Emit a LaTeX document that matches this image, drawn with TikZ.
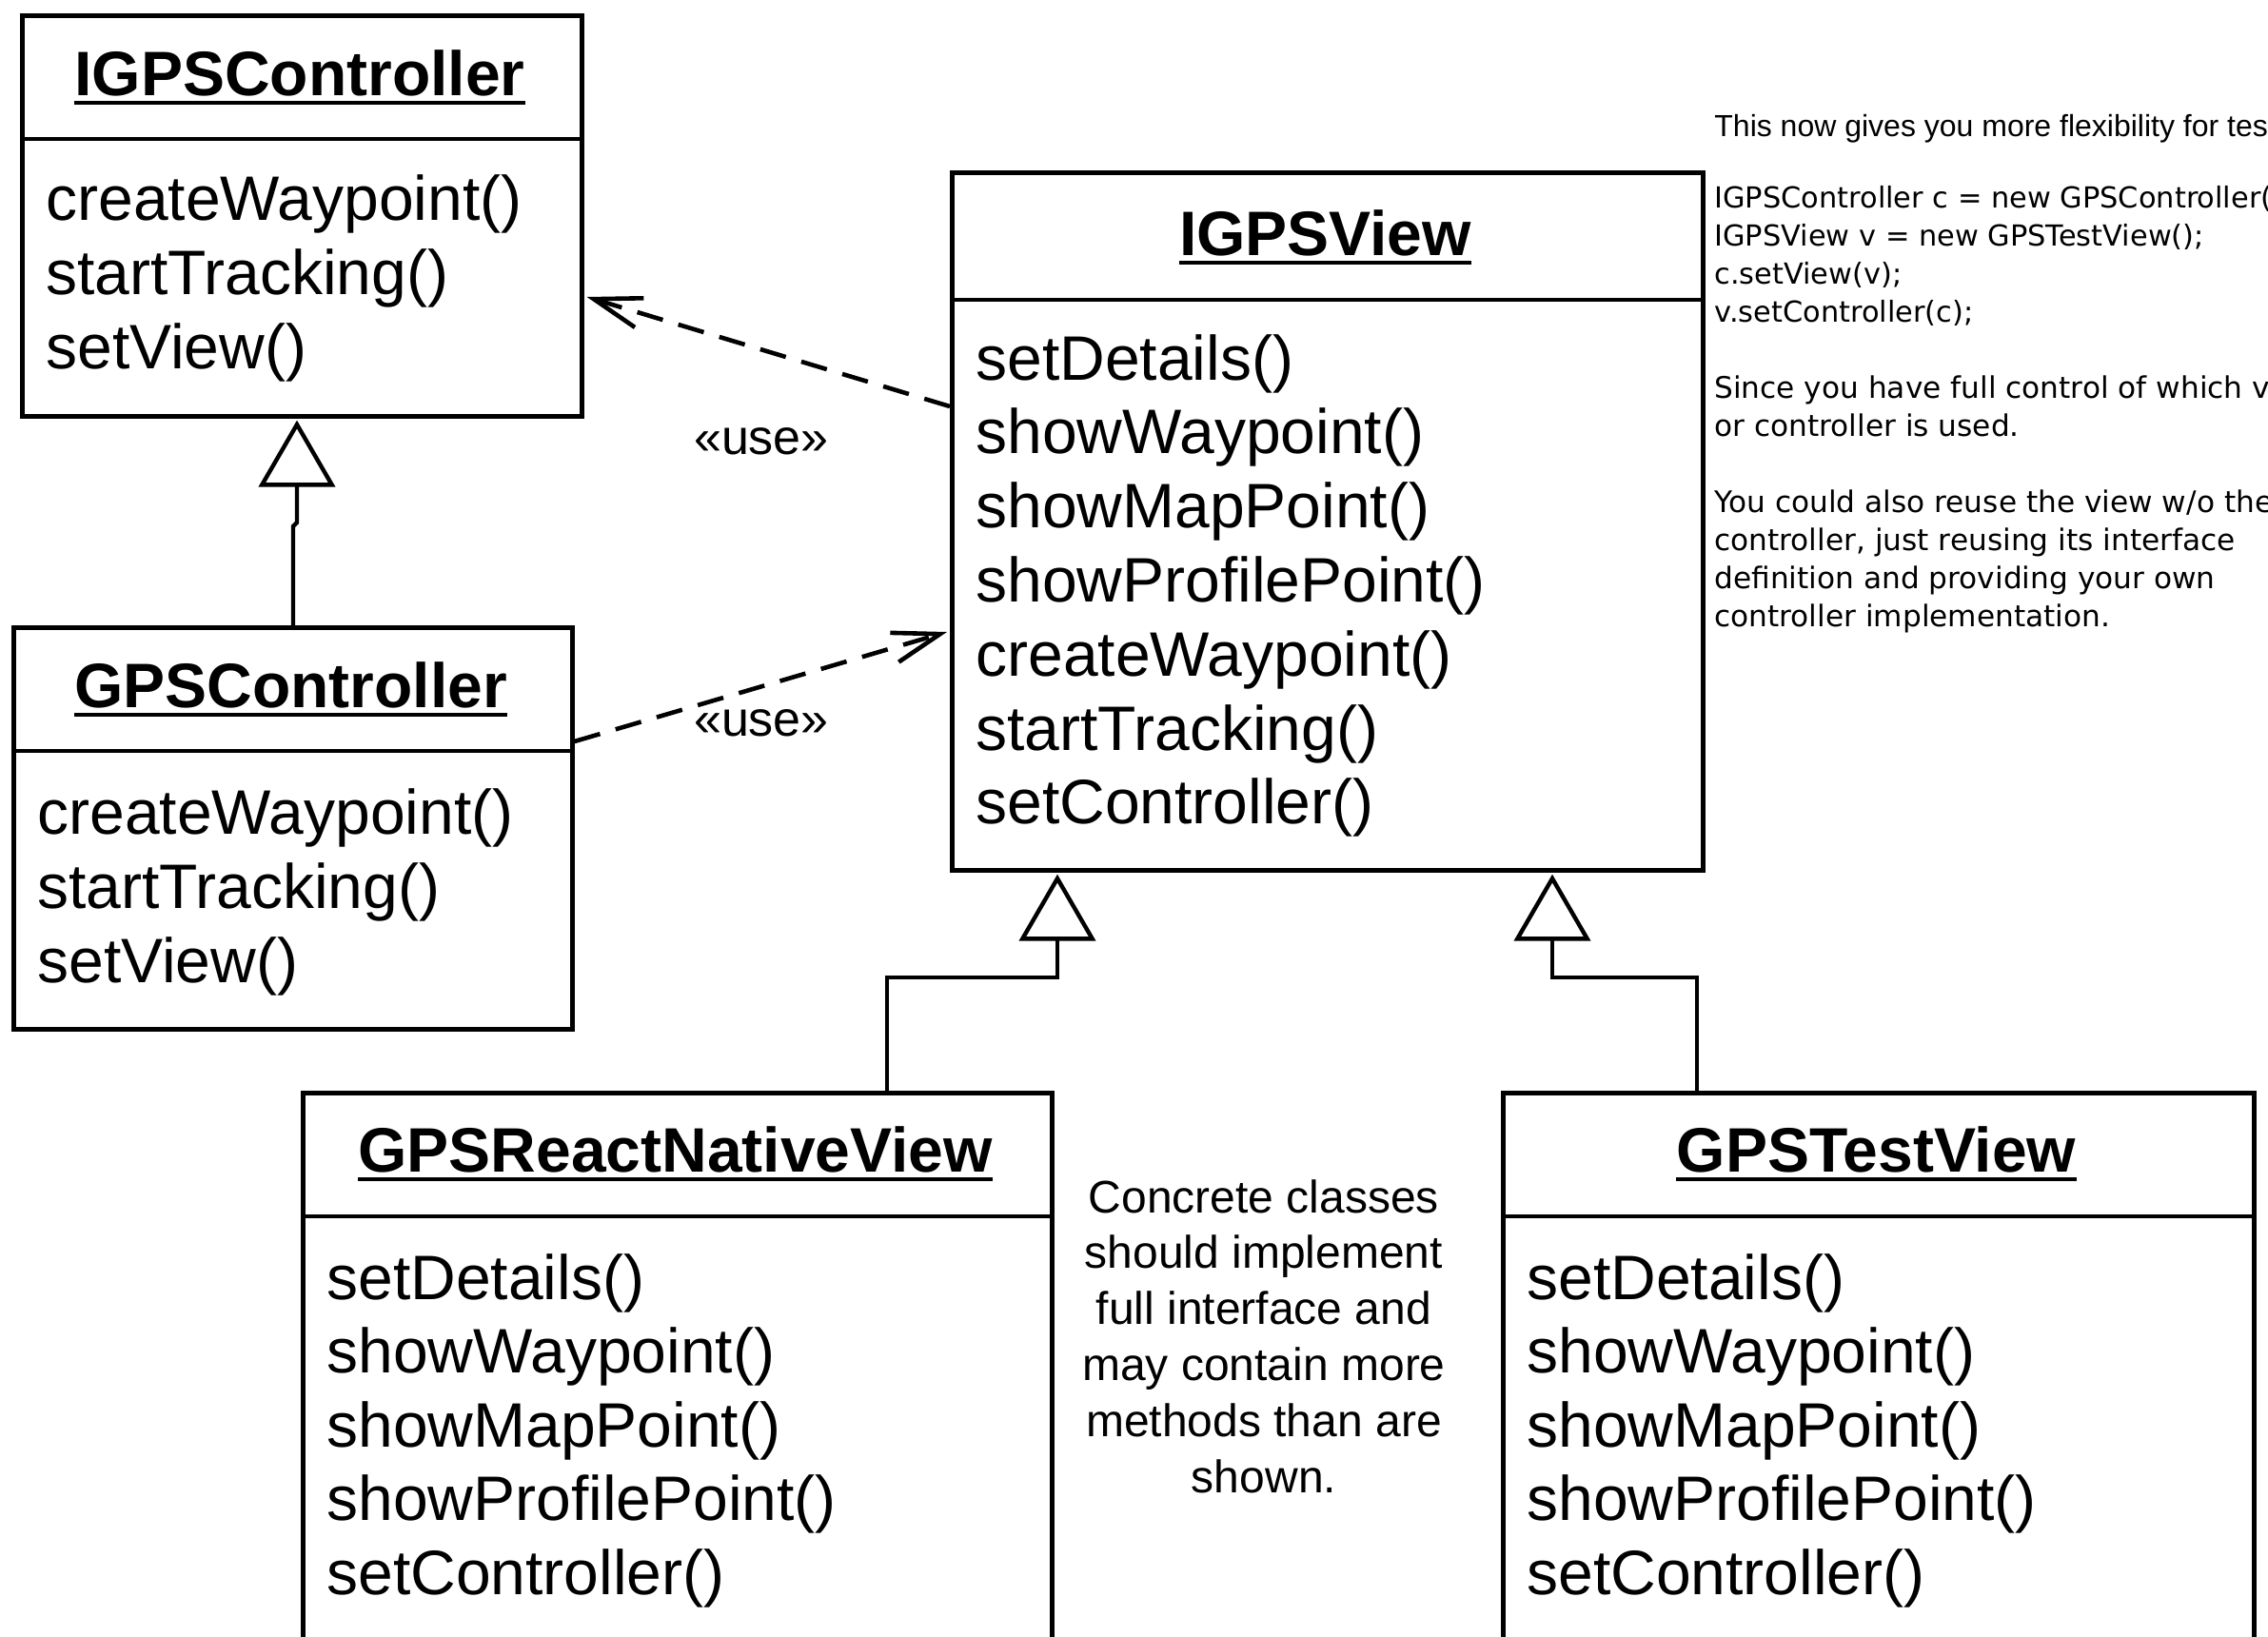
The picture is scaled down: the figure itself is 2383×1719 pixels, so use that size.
\documentclass[tikz,border=0pt]{standalone}
\usepackage{fontspec}
\setmainfont{Liberation Sans}
\newfontfamily\codefont{DejaVu Sans}
\usetikzlibrary{arrows.meta,calc}

\begin{document}
\begin{tikzpicture}[x=0.5pt, y=-0.5pt,
  cls/.style={draw, line width=2.3pt, inner sep=0pt, anchor=north west},
  divider/.style={line width=2.3pt},
  clsname/.style={font=\bfseries\fontsize{33}{40}\selectfont, anchor=base, inner sep=0pt},
  uline/.style={line width=2pt},
  method/.style={font=\fontsize{33}{40}\selectfont, anchor=base west, inner sep=0pt},
  stereo/.style={font=\fontsize{26}{31}\selectfont, anchor=base, inner sep=0pt},
  notetext/.style={font=\fontsize{24}{29}\selectfont, anchor=base, inner sep=0pt},
  headline/.style={font=\fontsize{16}{19}\selectfont, anchor=base west, inner sep=0pt},
  codeline/.style={font=\codefont\fontsize{15.2}{18}\selectfont, anchor=base west, inner sep=0pt},
  paraline/.style={font=\codefont\fontsize{15.6}{19}\selectfont, anchor=base west, inner sep=0pt},
  usedep/.style={line width=2.3pt, dash pattern=on 14pt off 8.5pt,
                 -{Straight Barb[length=25pt, width=16pt]}},
  generalize/.style={line width=2.2pt, -{Triangle[open, length=35pt, width=40pt]}},
]
\useasboundingbox (0,0) rectangle (2383,1719);
\clip (0,0) rectangle (2383,1719);

% ---------- class boxes ----------
\node[cls, minimum width=294pt,   minimum height=210.5pt] (A) at (21,14)    {};
\node[cls, minimum width=293.5pt, minimum height=211pt]   (B) at (12,657)   {};
\node[cls, minimum width=394.5pt, minimum height=366.5pt] (C) at (998,179)  {};
\node[cls, minimum width=393.5pt, minimum height=310pt]   (D) at (316,1146) {};
\node[cls, minimum width=394.5pt, minimum height=310pt]   (E) at (1577,1146){};

% compartment dividers
\draw[divider] ([yshift=-66pt]A.north west) -- ([yshift=-66pt]A.north east);
\draw[divider] ([yshift=-66pt]B.north west) -- ([yshift=-66pt]B.north east);
\draw[divider] ([yshift=-68pt]C.north west) -- ([yshift=-68pt]C.north east);
\draw[divider] ([yshift=-66pt]D.north west) -- ([yshift=-66pt]D.north east);
\draw[divider] ([yshift=-66pt]E.north west) -- ([yshift=-66pt]E.north east);

% ---------- class names (underlined) ----------
\node[clsname] (An) at (315,100)    {IGPSController};
\node[clsname] (Bn) at (305.5,743)  {GPSController};
\node[clsname] (Cn) at (1392.5,268) {IGPSView};
\node[clsname] (Dn) at (709.5,1231) {GPSReactNativeView};
\node[clsname] (En) at (1971.5,1231){GPSTestView};
\foreach \n in {An,Bn,Cn,Dn,En}
  \draw[uline] ([yshift=-4pt]\n.base west) -- ([yshift=-4pt]\n.base east);

% ---------- operations ----------
\foreach \t [count=\i from 0] in {createWaypoint(), startTracking(), setView()}
  \node[method] (Am\i) at (48, 231+78*\i) {\t};
\foreach \t [count=\i from 0] in {createWaypoint(), startTracking(), setView()}
  \node[method] (Bm\i) at (39, 876+78*\i) {\t};
\foreach \t [count=\i from 0] in {setDetails(), showWaypoint(), showMapPoint(),
    showProfilePoint(), createWaypoint(), startTracking(), setController()}
  \node[method] (Cm\i) at (1025, 399+77.8*\i) {\t};
\foreach \t [count=\i from 0] in {setDetails(), showWaypoint(), showMapPoint(),
    showProfilePoint(), setController()}
  \node[method] (Dm\i) at (343, 1365+77.6*\i) {\t};
\foreach \t [count=\i from 0] in {setDetails(), showWaypoint(), showMapPoint(),
    showProfilePoint(), setController()}
  \node[method] (Em\i) at (1604, 1365+77.6*\i) {\t};

% ---------- dependencies ----------
\draw[usedep] ($(C.north west)+(0,248)$) -- ($(A.north east)+(3,298)$);
\draw[usedep] ($(B.north east)+(0,122)$) -- ($(C.north west)+(-3,485)$);
\node[stereo] (use1) at (800,477) {«use»};
\node[stereo] (use2) at (800,773) {«use»};

% ---------- generalizations ----------
\draw[generalize] ($(B.north west)+(296,0)$) -- ++(0,-104) -- ++(4,-4)
  -- ($(A.south west)+(291,2)$);
\draw[generalize] ($(D.north west)+(616,0)$) -- ++(0,-119) -- ++(179,0)
  -- ($(C.south west)+(113,2)$);
\draw[generalize] ($(E.north west)+(206,0)$) -- ++(0,-119) -- ++(-152,0)
  -- ($(C.south west)+(633,2)$);

% ---------- note between the concrete classes ----------
\foreach \t [count=\i from 0] in {Concrete classes, should implement,
    full interface and, may contain more, methods than are, shown.}
  \node[notetext] (N\i) at (1328, 1274+58.8*\i) {\t};

% ---------- explanatory text ----------
\node[headline] (T0) at (1801,143) {This now gives you more flexibility for tes};
\node[codeline] (T1) at (1801,218) {IGPSController c = new GPSController(};
\node[codeline] (T2) at (1801,258) {IGPSView v = new GPSTestView();};
\node[codeline] (T3) at (1801,298) {c.setView(v);};
\node[codeline] (T4) at (1801,338) {v.setController(c);};
\node[paraline] (T5) at (1801,418) {Since you have full control of which vi};
\node[paraline] (T6) at (1801,458) {or controller is used.};
\node[paraline] (T7) at (1801,538) {You could also reuse the view w/o the};
\node[paraline] (T8) at (1801,578) {controller, just reusing its interface};
\node[paraline] (T9) at (1801,618) {definition and providing your own};
\node[paraline] (T10) at (1801,658) {controller implementation.};
\end{tikzpicture}
\end{document}
